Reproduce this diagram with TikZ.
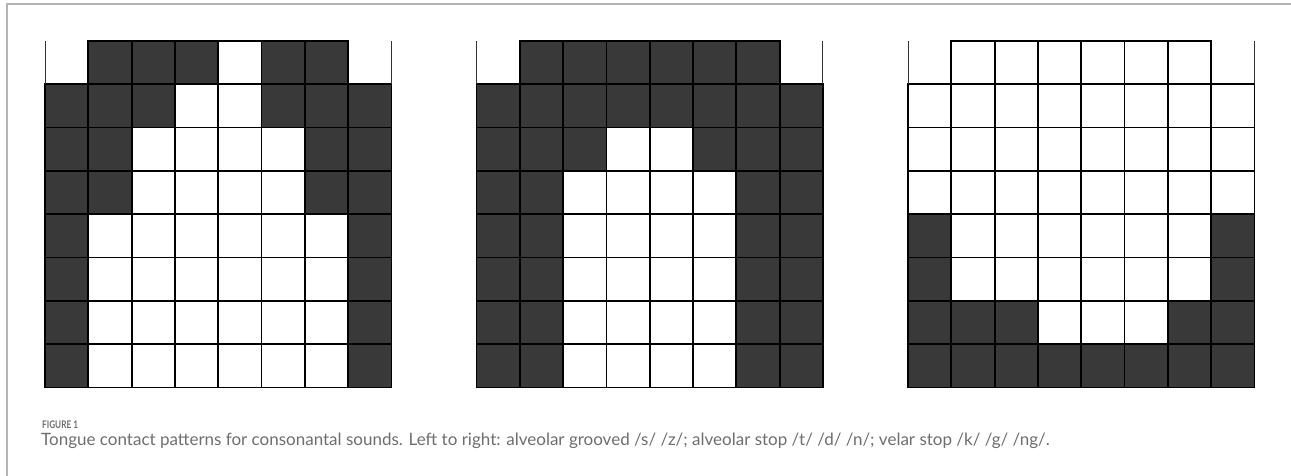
\documentclass[tikz,border=0pt]{standalone}
\usepackage{fontspec}
\setmainfont{Lato}
\usepackage{graphicx}
\usepackage{xcolor}
\usepackage{tikz}
\definecolor{contact}{HTML}{3A3939}
\definecolor{framegray}{HTML}{B4B4B4}
\definecolor{capgray}{HTML}{6E6E6E}
\tikzset{
  cell/.style   ={draw=black, line width=1.8pt, fill=white},
  hit/.style    ={draw=black, line width=1.8pt, fill=contact},
  rim/.style    ={draw=black!80, line width=1pt},
  border/.style ={draw=framegray, line width=1.6pt},
  figlab/.style ={anchor=base west, inner sep=0pt, text=capgray, font=\fontsize{10.5}{12}\selectfont\bfseries},
  captxt/.style ={anchor=base west, inner sep=0pt, text=capgray, font=\fontsize{17}{20}\selectfont},
}
% one palate grid: #1 = left edge, #2 = rows (9 = no electrode)
\newcommand{\palate}[2]{
  \foreach \row [count=\ri] in {#2} {
    \foreach \v [count=\ci] in \row {
      \ifnum\v=9 \else
        \ifnum\v=1
          \draw[hit] ({#1+(\ci-1)*43.3},{41+(\ri-1)*43.3}) rectangle ++(43.3,43.3);
        \else
          \draw[cell] ({#1+(\ci-1)*43.3},{41+(\ri-1)*43.3}) rectangle ++(43.3,43.3);
        \fi
      \fi
    }
  }
  \draw[rim] (#1,41) -- ++(0,43.3);
  \draw[rim] ({#1+8*43.3},41) -- ++(0,43.3);
}

\begin{document}
\begin{tikzpicture}[x=1pt, y=-1pt]
  \useasboundingbox (0,0) rectangle (1291,476);
  \draw[border] (1291,4) -- (7,4) -- (7,476);

  % alveolar grooved
  \palate{45}{{9,1,1,1,0,1,1,9},{1,1,1,0,0,1,1,1},{1,1,0,0,0,0,1,1},{1,1,0,0,0,0,1,1},
    {1,0,0,0,0,0,0,1},{1,0,0,0,0,0,0,1},{1,0,0,0,0,0,0,1},{1,0,0,0,0,0,0,1}}
  % alveolar stop
  \palate{476.5}{{9,1,1,1,1,1,1,9},{1,1,1,1,1,1,1,1},{1,1,1,0,0,1,1,1},{1,1,0,0,0,0,1,1},
    {1,1,0,0,0,0,1,1},{1,1,0,0,0,0,1,1},{1,1,0,0,0,0,1,1},{1,1,0,0,0,0,1,1}}
  % velar stop
  \palate{908}{{9,0,0,0,0,0,0,9},{0,0,0,0,0,0,0,0},{0,0,0,0,0,0,0,0},{0,0,0,0,0,0,0,0},
    {1,0,0,0,0,0,0,1},{1,0,0,0,0,0,0,1},{1,1,1,0,0,0,1,1},{1,1,1,1,1,1,1,1}}

  \node[figlab] (fig) at (42,428) {\scalebox{0.78}[1]{FIGURE 1}};
  \node[captxt] (cap) at (41,445) {Tongue contact patterns for consonantal sounds. Left to right: alveolar grooved /s/ /z/; alveolar stop /t/ /d/ /n/; velar stop /k/ /g/ /ng/.};
\end{tikzpicture}
\end{document}
